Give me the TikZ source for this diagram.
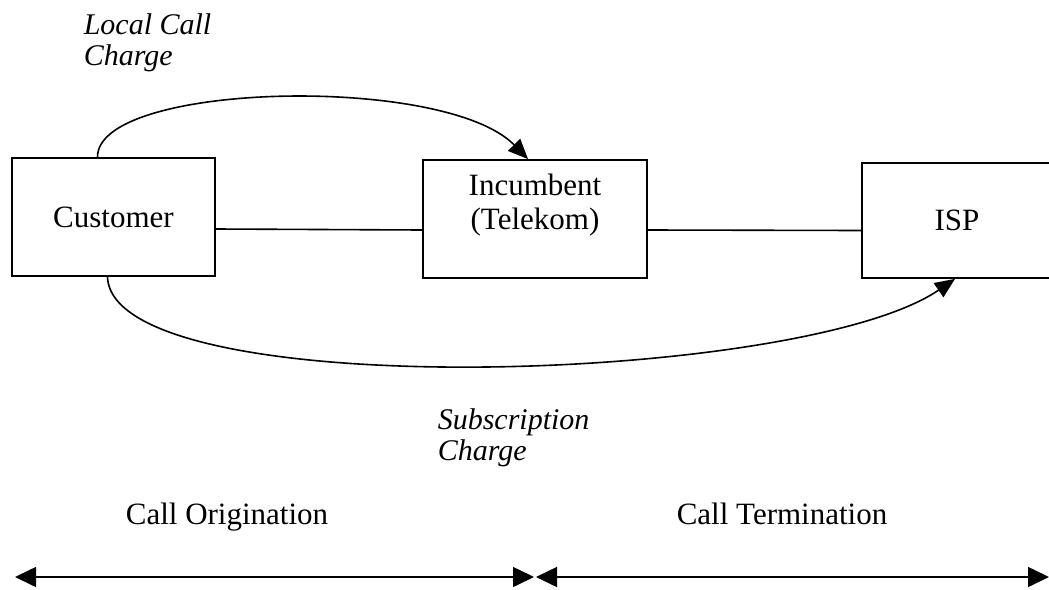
\documentclass[tikz,border=0pt]{standalone}
\usepackage{fontspec}
\setmainfont{Liberation Serif}
\usetikzlibrary{arrows.meta}
\begin{document}
\begin{tikzpicture}[x=1pt,y=-1pt,
  line width=1.6pt,
  boxnode/.style={draw, line width=1.8pt, inner sep=0pt, align=center,
    font=\fontsize{31}{34}\selectfont},
  plain/.style={font=\fontsize{31}{34}\selectfont, inner sep=0pt, align=center},
  note/.style={font=\fontsize{30}{31}\selectfont\itshape, inner sep=0pt, align=left},
  tip/.style={-{Triangle[length=20pt,width=17pt]}},
  span/.style={{Triangle[length=21pt,width=20pt]}-{Triangle[length=21pt,width=20pt]}}]
\useasboundingbox (0,0) rectangle (1049,589);

% parties
\node[boxnode, minimum width=203pt, minimum height=118pt] (cust) at (113.5,217) {Customer};
\node[boxnode, minimum width=224pt, minimum height=118pt] (inc) at (535,219) {};
\node[plain, anchor=base] (inctext) at (535,229) {Incumbent\\(Telekom)};
\node[boxnode, minimum width=190pt, minimum height=115pt] (isp) at (957,220.5) {ISP};

% physical links
\draw ([yshift=-12pt]cust.east) -- ([yshift=-11pt]inc.west);
\draw ([yshift=-11pt]inc.east) -- ([yshift=-10pt]isp.west);

% charge flows
\draw[tip] ([xshift=-16pt]cust.north) .. controls (97,82) and (445,74) .. ([xshift=-7pt]inc.north);
\draw[tip] ([xshift=-6pt]cust.south) .. controls (112,405) and (800,385) .. ([xshift=-2pt]isp.south);

% labels of the charges (anchored on the baseline of the last line)
\node[note, anchor=base west] (lcc) at (83,65) {Local Call\\Charge};
\node[note, anchor=base west] (sc) at (437,460) {Subscription\\Charge};

% call segments
\node[plain, anchor=base] (orig) at (227,524) {Call Origination};
\node[plain, anchor=base] (term) at (782,524) {Call Termination};

\coordinate (l) at (15,577);
\coordinate (m1) at (534,577);
\coordinate (m2) at (536,577);
\coordinate (r) at (1049,577);
\draw[span] (l) -- (m1);
\draw[span] (m2) -- (r);
\end{tikzpicture}
\end{document}
